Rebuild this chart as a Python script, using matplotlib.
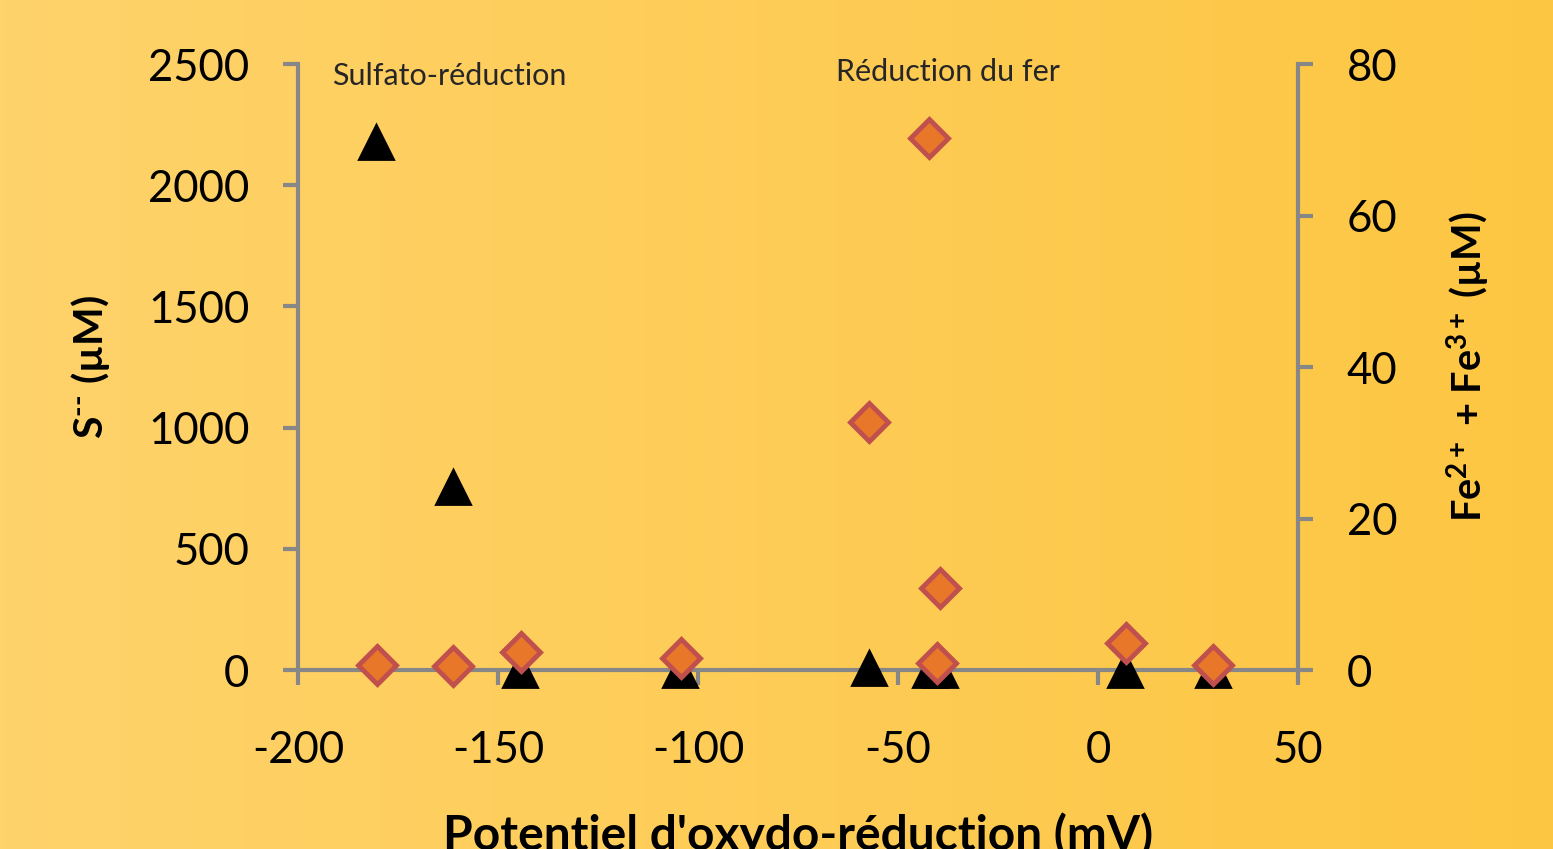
import numpy as np
import matplotlib
matplotlib.use('Agg')
from matplotlib import pyplot as plt
from matplotlib.colors import LinearSegmentedColormap

# S-- (left axis), triangles
s_x = [-180.5, -161.25, -144.5, -104.5, -57.25, -42.0, -39.5, 6.75, 28.75]
s_y = [2180, 755, 0, 0, 10, 0, 0, 0, 0]

# Fe2+ + Fe3+ (right axis), diamonds
fe_x = [-180.3, -161.25, -144.25, -104.25, -57.25, -42.25, -39.5, -40.25, 6.9, 28.75]
fe_y = [0.66, 0.5, 2.4, 1.6, 32.7, 70.2, 10.8, 0.97, 3.6, 0.66]

x_ticks = [-200, -150, -100, -50, 0, 50]
yl_ticks = [0, 500, 1000, 1500, 2000, 2500]
yr_ticks = [0, 20, 40, 60, 80]

plt.rcParams['font.family'] = ['Lato', 'DejaVu Sans']
plt.rcParams['axes.unicode_minus'] = False
plt.rcParams['mathtext.fontset'] = 'custom'
plt.rcParams['mathtext.rm'] = 'Lato:bold'
plt.rcParams['mathtext.bf'] = 'Lato:bold'
plt.rcParams['mathtext.it'] = 'Lato:bold'
plt.rcParams['mathtext.default'] = 'bf'
spine_col = '#878787'

fig = plt.figure(figsize=(15.53, 8.49), dpi=100)

# background gradient
bg = fig.add_axes([0, 0, 1, 1], zorder=-10)
cmap = LinearSegmentedColormap.from_list('bg', ['#FFD36B', '#FDC642'])
bg.imshow(np.linspace(0, 1, 256).reshape(1, -1), aspect='auto', cmap=cmap,
          extent=[0, 1, 0, 1])
bg.axis('off')

ax = fig.add_axes([0.1919, 0.2108, 0.6439, 0.7138])
ax.patch.set_alpha(0)
ax2 = ax.twinx()
ax2.patch.set_alpha(0)

ax.plot(s_x, s_y, ls='none', marker='^', ms=25, color='black', mew=2,
        mec='black', clip_on=False, zorder=3)
ax2.plot(fe_x, fe_y, ls='none', marker='D', ms=19, mfc='#E8772A',
         mec='#C0504D', mew=3.5, clip_on=False, zorder=4)

ax.set_xlim(-200, 50)
ax.set_ylim(0, 2500)
ax2.set_ylim(0, 80)
ax.set_xticks(x_ticks)
ax.set_yticks(yl_ticks)
ax2.set_yticks(yr_ticks)

for a in (ax, ax2):
    for sp in a.spines.values():
        sp.set_visible(False)
ax.spines['left'].set_visible(True)
ax.spines['bottom'].set_visible(True)
ax2.spines['right'].set_visible(True)
for sp in (ax.spines['left'], ax.spines['bottom'], ax2.spines['right']):
    sp.set_color(spine_col)
    sp.set_linewidth(3)

ax.tick_params(axis='x', direction='out', length=11, width=3, color=spine_col,
               pad=32, labelsize=31.5)
ax.tick_params(axis='y', direction='out', length=11, width=3, color=spine_col,
               pad=24, labelsize=31.5)
ax2.tick_params(axis='y', direction='out', length=11, width=3, color=spine_col,
                pad=24, labelsize=31.5)

ax.set_xlabel("Potentiel d'oxydo-réduction (mV)", fontsize=34.5,
              fontweight='bold', labelpad=30)
ax.set_ylabel(r'S$^{\text{--}}$ (µM)', fontsize=29.5, fontweight='bold',
              labelpad=26)
ax2.set_ylabel('Fe$^{2+}$ + Fe$^{3+}$ (µM)', fontsize=28.5, fontweight='bold',
               labelpad=34, rotation=90)

ax.text(-191.5, 2452, 'Sulfato-réduction', fontsize=22, color='#262626',
        va='center', ha='left')
ax.text(-65.5, 2466, 'Réduction du fer', fontsize=22, color='#262626',
        va='center', ha='left')

fig.savefig('out.png', dpi=100)
